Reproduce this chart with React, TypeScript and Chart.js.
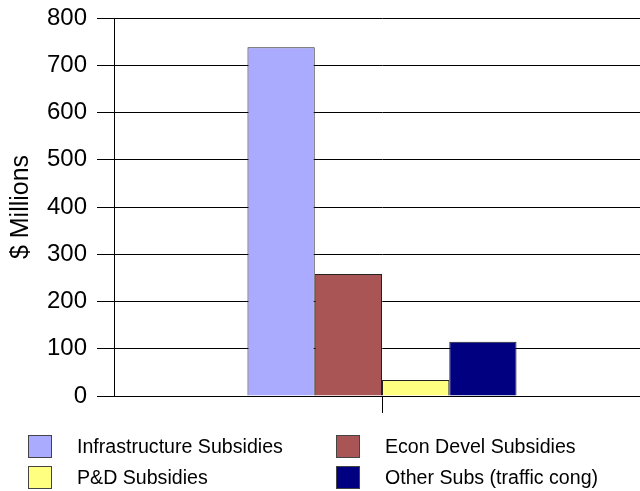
import React, { useEffect, useRef } from "react";
import { Chart, registerables } from "chart.js";

Chart.register(...registerables);

const categories = [""];
const seriesNames = [
  "Infrastructure Subsidies",
  "Econ Devel Subsidies",
  "P&D Subsidies",
  "Other Subs (traffic cong)",
];
const infrastructure = [738];
const econDevel = [258];
const pdSubsidies = [34];
const otherSubs = [115];
const seriesColors = ["#AAAAFF", "#AA5555", "#FFFF80", "#000080"];
const yTicks = [0, 100, 200, 300, 400, 500, 600, 700, 800];
const yTitle = "$ Millions";

const FONT = "'Liberation Sans', Arial, sans-serif";

export default function App() {
  const canvasRef = useRef<HTMLCanvasElement | null>(null);

  useEffect(() => {
    if (!canvasRef.current) return;
    const values = [infrastructure, econDevel, pdSubsidies, otherSubs];
    const chart = new Chart(canvasRef.current, {
      type: "bar",
      data: {
        labels: categories,
        datasets: seriesNames.map((name, i) => ({
          label: name,
          data: values[i],
          backgroundColor: seriesColors[i],
          borderColor: "#222222",
          borderWidth: 1,
          barPercentage: 1,
          categoryPercentage: 0.502,
        })),
      },
      options: {
        animation: false,
        responsive: false,
        devicePixelRatio: 1,
        layout: { padding: { top: 18, right: 0, bottom: 0, left: 0 } },
        plugins: {
          legend: { display: false },
          tooltip: { enabled: false },
        },
        scales: {
          x: {
            offset: true,
            grid: {
              display: true,
              offset: false,
              drawOnChartArea: false,
              drawTicks: true,
              tickLength: 17,
              color: "#000000",
              lineWidth: 1,
            },
            border: { display: false },
            ticks: { display: true, font: { family: FONT, size: 12 } },
            afterFit: (scale: any) => {
              scale.height = 95;
            },
          },
          y: {
            min: 0,
            max: 800,
            afterBuildTicks: (scale: any) => {
              scale.ticks = yTicks.map((v) => ({ value: v }));
            },
            grid: {
              color: "#000000",
              lineWidth: 1,
              tickLength: 17,
              drawTicks: true,
            },
            border: { display: true, color: "#000000", width: 1 },
            ticks: {
              color: "#000000",
              padding: 10,
              font: { family: FONT, size: 24, lineHeight: 0.5 },
            },
            title: {
              display: true,
              text: yTitle,
              color: "#000000",
              font: { family: FONT, size: 25 },
              padding: { top: 6, bottom: 0 },
            },
            afterFit: (scale: any) => {
              scale.width = 114;
            },
          },
        },
      },
    });
    return () => chart.destroy();
  }, []);

  const legendPos = [
    { box: 28, text: 77, y: 446 },
    { box: 336, text: 385, y: 446 },
    { box: 28, text: 77, y: 477 },
    { box: 336, text: 385, y: 477 },
  ];

  return (
    <div
      style={{
        position: "absolute",
        left: 0,
        top: 0,
        width: 640,
        height: 491,
        overflow: "hidden",
        background: "#ffffff",
      }}
    >
      <canvas
        ref={canvasRef}
        width={650}
        height={491}
        style={{ position: "absolute", left: 0, top: 0, width: 650, height: 491 }}
      />
      {seriesNames.map((name, i) => (
        <React.Fragment key={name}>
          <div
            style={{
              position: "absolute",
              left: legendPos[i].box,
              top: legendPos[i].y - 11,
              width: 24,
              height: 23,
              background: seriesColors[i],
              border: "1px solid #444444",
              boxSizing: "border-box",
            }}
          />
          <div
            style={{
              position: "absolute",
              left: legendPos[i].text,
              top: legendPos[i].y - 12,
              height: 24,
              lineHeight: "24px",
              fontFamily: FONT,
              fontSize: 19.6,
              color: "#000000",
              whiteSpace: "nowrap",
            }}
          >
            {name}
          </div>
        </React.Fragment>
      ))}
    </div>
  );
}
